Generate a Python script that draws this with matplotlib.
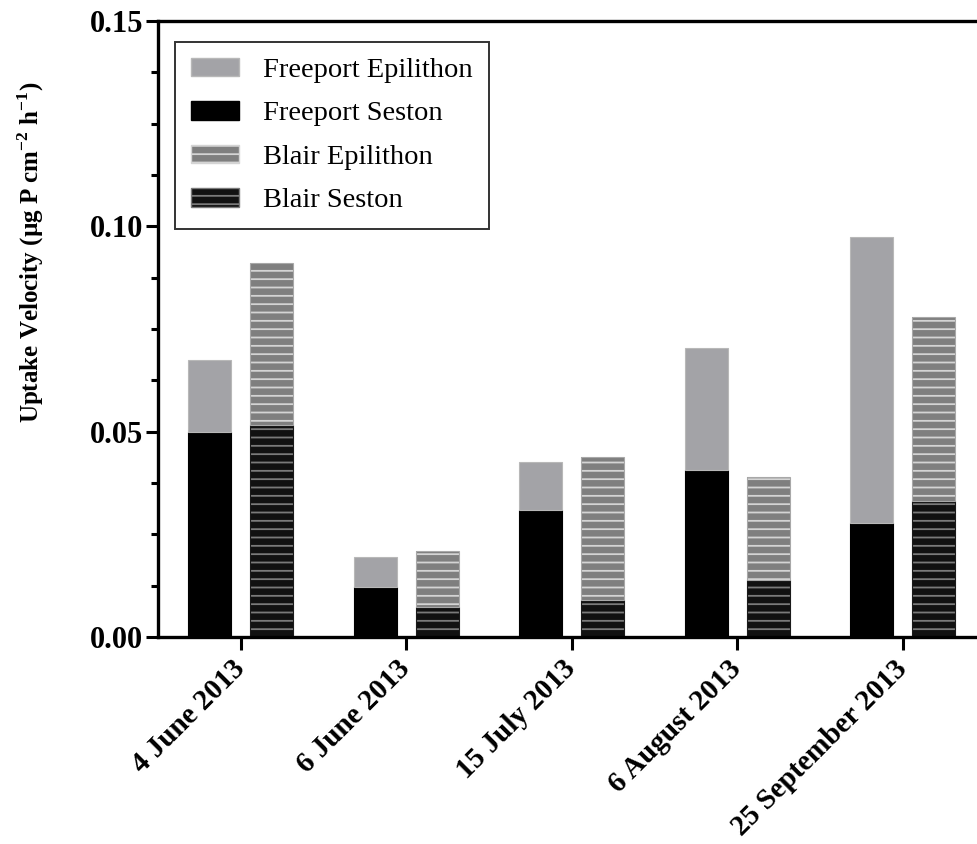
import numpy as np
import matplotlib
matplotlib.use("Agg")
import matplotlib.pyplot as plt
from matplotlib.ticker import MultipleLocator
from matplotlib.patches import Patch

# Dates sampled
dates = ['4 June 2013', '6 June 2013', '15 July 2013', '6 August 2013', '25 September 2013']

# Stacked segment heights (ug P cm-2 h-1)
freeport_seston = [0.0499, 0.0122, 0.0309, 0.0407, 0.0278]
freeport_epilithon = [0.0176, 0.0073, 0.0117, 0.0297, 0.0696]
blair_seston = [0.0516, 0.0074, 0.0090, 0.0139, 0.0331]
blair_epilithon = [0.0395, 0.0135, 0.0348, 0.0251, 0.0448]

plt.rcParams['font.family'] = ['Liberation Serif', 'DejaVu Serif']
plt.rcParams['mathtext.fontset'] = 'custom'
plt.rcParams['mathtext.rm'] = 'Liberation Serif'
plt.rcParams['mathtext.bf'] = 'Liberation Serif:bold'
plt.rcParams['hatch.linewidth'] = 1.3

fig = plt.figure(figsize=(9.77, 8.44), dpi=100)
ax = fig.add_axes([158 / 977, 1 - 637 / 844, 1 - 158 / 977, (637 - 21) / 844])

x = np.arange(len(dates))
w = 0.26
off = 0.187

# Freeport: solid bars
ax.bar(x - off, freeport_seston, w, color='black', edgecolor='black', linewidth=0.8)
ax.bar(x - off, freeport_epilithon, w, bottom=freeport_seston,
       color='#a3a3a7', edgecolor='#b8b8b8', linewidth=0.8)

# Blair: hatched bars (hatch drawn first, outline on top)
ax.bar(x + off, blair_seston, w, color='#111111', edgecolor='#7a7a7a',
       hatch='--', linewidth=0)
ax.bar(x + off, blair_seston, w, fill=False, edgecolor='#1a1a1a', linewidth=0.8)
ax.bar(x + off, blair_epilithon, w, bottom=blair_seston, color='#7f7f7f',
       edgecolor='#d4d4d4', hatch='--', linewidth=0)
ax.bar(x + off, blair_epilithon, w, bottom=blair_seston, fill=False,
       edgecolor='#a8a8a8', linewidth=0.8)

ax.set_xlim(-0.5, 4.45)
ax.set_ylim(0, 0.15)
ax.set_yticks([0.0, 0.05, 0.10, 0.15])
ax.set_yticklabels(['0.00', '0.05', '0.10', '0.15'])
ax.yaxis.set_minor_locator(MultipleLocator(0.0125))
ax.set_xticks(x)
ax.set_xticklabels(dates, rotation=45, ha='right', va='center', rotation_mode='anchor')

for lab in ax.get_xticklabels():
    lab.set_fontweight('bold')
    lab.set_fontsize(21)
for lab in ax.get_yticklabels():
    lab.set_fontweight('bold')
    lab.set_fontsize(22)

ax.tick_params(axis='y', which='major', length=9, width=2.2, pad=1.8)
ax.tick_params(axis='y', which='minor', length=5, width=2.2)
ax.tick_params(axis='x', which='major', length=9, width=2.2, pad=11)

ax.spines['right'].set_visible(False)
for s in ['left', 'bottom', 'top']:
    ax.spines[s].set_linewidth(2.4)

fig.text(31 / 977, 1 - 252 / 844,
         'Uptake Velocity (\u00b5g P cm$^{\\mathbf{-2}}$ h$^{\\mathbf{-1}}$)',
         rotation=90, ha='center', va='center', fontsize=18, fontweight='bold')

handles = [
    Patch(facecolor='#a3a3a7', edgecolor='#b8b8b8', label='Freeport Epilithon'),
    Patch(facecolor='black', edgecolor='black', label='Freeport Seston'),
    Patch(facecolor='#7f7f7f', edgecolor='#d4d4d4', hatch='--', label='Blair Epilithon'),
    Patch(facecolor='#111111', edgecolor='#7a7a7a', hatch='--', label='Blair Seston'),
]
leg = ax.legend(handles=handles, loc='upper left',
                bbox_to_anchor=(175 / 977, 1 - 42 / 844), bbox_transform=fig.transFigure,
                borderaxespad=0, fontsize=20.5, frameon=True, fancybox=False,
                handlelength=1.7, handleheight=0.62, handletextpad=0.85,
                labelspacing=0.64, borderpad=0.55)
leg.get_frame().set_edgecolor('black')
leg.get_frame().set_linewidth(1.4)

fig.savefig('out.png', dpi=100)
